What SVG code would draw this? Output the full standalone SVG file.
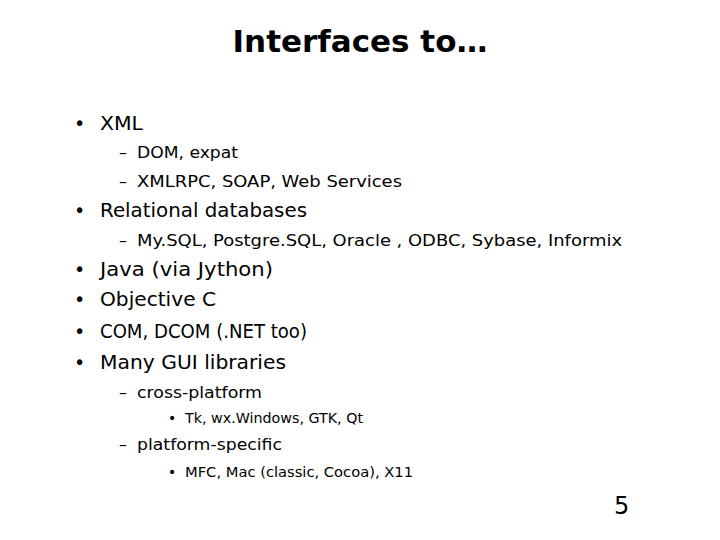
<svg xmlns="http://www.w3.org/2000/svg" width="720" height="540" viewBox="0 0 720 540">
<style>
text{font-family:"DejaVu Sans","Verdana",sans-serif;fill:#000}
.t{font-size:31px;font-weight:bold}
.l1{font-size:19px}
.l2{font-size:16px}
.l3{font-size:14px}
</style>
<rect width="720" height="540" fill="#fff"/>
<text class="t" x="360" y="52" text-anchor="middle">Interfaces to…</text>
<g class="l1">
<text x="74" y="130">•</text><text x="100" y="130" textLength="43" lengthAdjust="spacingAndGlyphs">XML</text>
<text x="74" y="217">•</text><text x="100" y="217" textLength="207" lengthAdjust="spacingAndGlyphs">Relational databases</text>
<text x="74" y="276">•</text><text x="100" y="276" textLength="173" lengthAdjust="spacingAndGlyphs">Java (via Jython)</text>
<text x="74" y="306">•</text><text x="100" y="306" textLength="116" lengthAdjust="spacingAndGlyphs">Objective C</text>
<text x="74" y="338">•</text><text x="100" y="338" textLength="207" lengthAdjust="spacingAndGlyphs">COM, DCOM (.NET too)</text>
<text x="74" y="369">•</text><text x="100" y="369" textLength="186" lengthAdjust="spacingAndGlyphs">Many GUI libraries</text>
</g>
<g class="l2">
<text x="119" y="158">–</text><text x="137" y="158" textLength="101" lengthAdjust="spacingAndGlyphs">DOM, expat</text>
<text x="119" y="187">–</text><text x="137" y="187" textLength="265" lengthAdjust="spacingAndGlyphs">XMLRPC, SOAP, Web Services</text>
<text x="119" y="246">–</text><text x="137" y="246" textLength="485" lengthAdjust="spacingAndGlyphs">My.SQL, Postgre.SQL, Oracle , ODBC, Sybase, Informix</text>
<text x="119" y="398">–</text><text x="137" y="398" textLength="125" lengthAdjust="spacingAndGlyphs">cross-platform</text>
<text x="119" y="450">–</text><text x="137" y="450" textLength="145" lengthAdjust="spacingAndGlyphs">platform-specific</text>
</g>
<g class="l3">
<text x="168" y="423">•</text><text x="185" y="423" textLength="178" lengthAdjust="spacingAndGlyphs">Tk, wx.Windows, GTK, Qt</text>
<text x="168" y="477">•</text><text x="185" y="477" textLength="228" lengthAdjust="spacingAndGlyphs">MFC, Mac (classic, Cocoa), X11</text>
</g>
<text x="614" y="514" font-size="24">5</text>
</svg>
